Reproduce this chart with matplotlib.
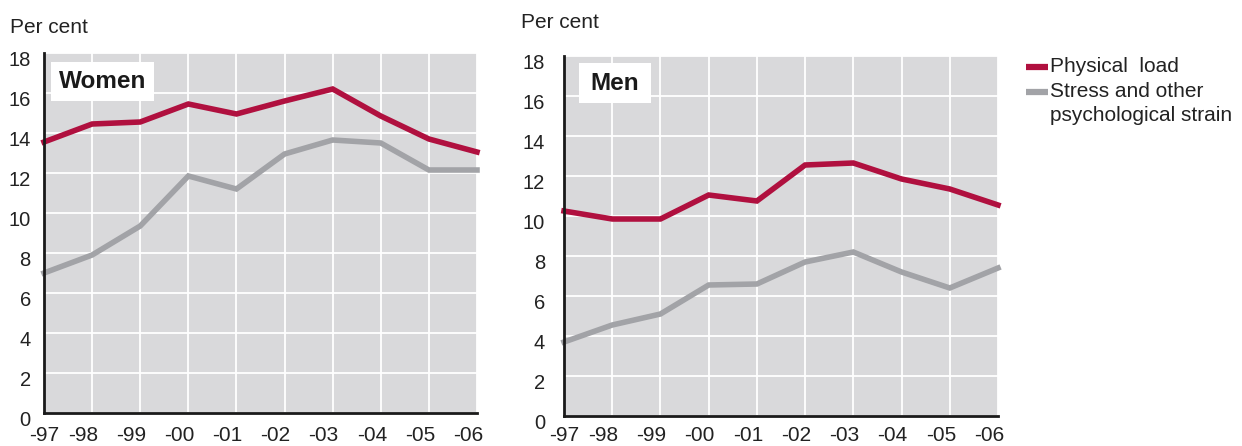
import matplotlib
matplotlib.use("Agg")
import matplotlib.pyplot as plt
from matplotlib.transforms import ScaledTranslation
from matplotlib.patches import Rectangle
from matplotlib.lines import Line2D

plt.rcParams['font.family'] = ['Liberation Sans', 'DejaVu Sans']

years = ["-97", "-98", "-99", "-00", "-01", "-02", "-03", "-04", "-05", "-06"]
women_physical = [13.55, 14.45, 14.55, 15.45, 14.95, 15.6, 16.2, 14.85, 13.7, 13.05]
women_stress = [7.0, 7.9, 9.35, 11.85, 11.2, 12.95, 13.65, 13.5, 12.15, 12.15]
men_physical = [10.25, 9.85, 9.85, 11.05, 10.75, 12.55, 12.65, 11.85, 11.35, 10.55]
men_stress = [3.7, 4.55, 5.1, 6.55, 6.6, 7.7, 8.2, 7.2, 6.4, 7.4]
yticks = [0, 2, 4, 6, 8, 10, 12, 14, 16, 18]
legend_labels = ["Physical  load", "Stress and other\npsychological strain"]

RED = "#b0103f"
GREY = "#a2a3a7"
BG = "#d9d9db"
TXT = "#222222"

W, H = 1242, 446
fig = plt.figure(figsize=(W / 100, H / 100), dpi=100)


def add_panel(rect, phys, stress, title, ypad, xpad, box):
    ax = fig.add_axes(rect)
    x = list(range(len(years)))
    ax.set_facecolor(BG)
    ax.plot(x, stress, color=GREY, lw=4.0, solid_joinstyle='miter', zorder=3, clip_on=False)
    ax.plot(x, phys, color=RED, lw=4.0, solid_joinstyle='miter', zorder=4, clip_on=False)
    ax.set_xlim(0, len(years) - 1)
    ax.set_ylim(0, 18)
    ax.set_yticks(yticks)
    ax.set_yticklabels([str(v) for v in yticks])
    ax.set_xticks(x)
    ax.set_xticklabels(years)
    ax.grid(True, color="white", lw=1.3, zorder=1)
    ax.set_axisbelow(True)
    for s in ("top", "right"):
        ax.spines[s].set_visible(False)
    for s in ("left", "bottom"):
        ax.spines[s].set_linewidth(2.0)
        ax.spines[s].set_color("#1a1a1a")
        ax.spines[s].set_zorder(5)
    ax.tick_params(axis="both", length=0, labelsize=14.5, colors=TXT)
    ax.tick_params(axis="x", labelsize=15, pad=xpad)
    ax.tick_params(axis="y", pad=ypad)
    offx = ScaledTranslation(-9 / 100, 0, fig.dpi_scale_trans)
    for i, lab in enumerate(ax.get_xticklabels()):
        if i > 0:
            lab.set_transform(lab.get_transform() + offx)
    offy = ScaledTranslation(0, -5.5 / 100, fig.dpi_scale_trans)
    for lab in ax.get_yticklabels():
        lab.set_transform(lab.get_transform() + offy)
    x0, y0, x1, y1 = box
    ax.add_patch(Rectangle((x0, y0), x1 - x0, y1 - y0, transform=ax.transAxes,
                           fc="white", ec="none", zorder=6, clip_on=False))
    ax.text((x0 + x1) / 2, (y0 + y1) / 2, title, transform=ax.transAxes, fontsize=17.5,
            fontweight="bold", color="#1a1a1a", va="center", ha="center", zorder=7)
    return ax


ax1 = add_panel([44 / W, 1 - 413 / H, 433 / W, 360 / H],
                women_physical, women_stress, "Women", 9.5, 9.5, (0.016, 0.867, 0.254, 0.975))
ax2 = add_panel([564 / W, 1 - 416 / H, 434 / W, 360 / H],
                men_physical, men_stress, "Men", 13.5, 7.5, (0.035, 0.869, 0.2, 0.981))

fig.text(10 / W, 1 - 27.5 / H, "Per cent", fontsize=15, color=TXT, va="center")
fig.text(521 / W, 1 - 22.5 / H, "Per cent", fontsize=15, color=TXT, va="center")

# legend (manual)
for col, lab, ypx in zip([RED, GREY], legend_labels, [67, 92]):
    fig.add_artist(Line2D([1026 / W, 1048 / W], [1 - ypx / H, 1 - ypx / H], color=col,
                          lw=4.5, solid_capstyle='butt'))
    fig.text(1050 / W, 1 - (ypx - 10) / H, lab, fontsize=15, color=TXT, va="top",
             ha="left", linespacing=1.35)

fig.savefig("out.png", dpi=100)
